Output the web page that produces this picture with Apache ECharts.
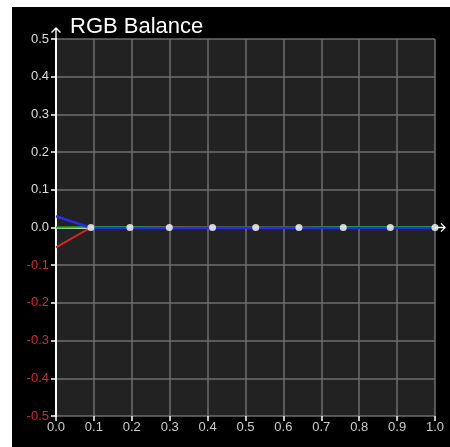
<!DOCTYPE html>
<html>
<head>
<meta charset="utf-8">
<script src="https://cdn.jsdelivr.net/npm/echarts@6/dist/echarts.min.js"></script>
<style>
html, body { margin: 0; padding: 0; background: #fff; }
#chart { position: absolute; left: 12px; top: 7px; width: 438px; height: 440px; }
</style>
</head>
<body>
<div id="chart"></div>
<script>
var xs = [0.0, 0.092, 0.195, 0.299, 0.413, 0.527, 0.641, 0.758, 0.882, 1.0];
var redVals   = [-0.053, 0.0, 0.001, 0.001, 0.0, 0.0, 0.0, 0.0, 0.0, 0.0];
var greenVals = [0.0, 0.001, 0.001, 0.0, 0.0, 0.0, 0.0, 0.001, 0.001, 0.001];
var blueVals  = [0.03, -0.001, -0.001, -0.001, -0.001, -0.001, -0.001, -0.001, -0.001, -0.001];
var dotVals   = [0.0, 0.0, 0.0, 0.0, 0.0, 0.0, 0.0, 0.0, 0.0];

function pairs(ys) {
    return ys.map(function (y, i) { return [xs[i], y]; });
}

var arrow = 'path://M0,5 L5,0 L10,5 L9,6 L5.7,2.7 L5.7,12 L4.3,12 L4.3,2.7 L1,6 Z';
var gridColor = '#6e6e6e';

var chart = echarts.init(document.getElementById('chart'));
var option = {
    backgroundColor: '#000',
    animation: false,
    title: {
        text: 'RGB Balance',
        left: 53,
        top: 4,
        textStyle: { color: '#fff', fontSize: 22, fontWeight: 'normal', fontFamily: 'Liberation Sans' }
    },
    grid: {
        left: 44, right: 15, top: 32, bottom: 31,
        show: true, backgroundColor: '#222', borderWidth: 0
    },
    xAxis: [
        {
            type: 'value', min: 0, max: 1, interval: 0.1, position: 'bottom',
            axisLine: { show: false, onZero: false },
            axisTick: { show: true, length: 5, lineStyle: { color: '#fff', width: 1.5 } },
            axisLabel: {
                margin: 5, color: '#ccc', fontSize: 13, fontFamily: 'Liberation Sans',
                formatter: function (v) { return v.toFixed(1); }
            },
            splitLine: { show: true, lineStyle: { color: gridColor, width: 1.5 } }
        },
        {
            type: 'value', min: 0, max: 1, interval: 0.1,
            axisLine: {
                show: true, onZero: true,
                symbol: ['none', arrow], symbolSize: [10, 11], symbolOffset: [0, 5.5],
                lineStyle: { color: '#fff', width: 1.5 }
            },
            axisTick: { show: false },
            axisLabel: { show: false },
            splitLine: { show: false }
        }
    ],
    yAxis: {
        type: 'value', min: -0.5, max: 0.5, interval: 0.1,
        axisLine: {
            show: true, onZero: false,
            symbol: ['none', arrow], symbolSize: [10, 12], symbolOffset: [0, 6],
            lineStyle: { color: '#fff', width: 2 }
        },
        axisTick: { show: true, length: 5, lineStyle: { color: '#fff', width: 1.5 } },
        axisLabel: {
            margin: 7, fontSize: 13, fontFamily: 'Liberation Sans',
            color: function (v) { return Number(v) < -0.0001 ? '#d42a2a' : '#ddd'; },
            formatter: function (v) { return (Math.abs(v) < 1e-9 ? 0 : v).toFixed(1); }
        },
        splitLine: { show: true, lineStyle: { color: gridColor, width: 1.5 } }
    },
    series: [
        {
            name: 'Red', type: 'line', data: pairs(redVals), showSymbol: false,
            lineStyle: { color: '#e02424', width: 2 }, itemStyle: { color: '#e02424' }
        },
        {
            name: 'Green', type: 'line', data: pairs(greenVals), showSymbol: false,
            lineStyle: { color: '#1fb21f', width: 2 }, itemStyle: { color: '#1fb21f' }
        },
        {
            name: 'Blue', type: 'line', data: pairs(blueVals), showSymbol: false,
            lineStyle: { color: '#2b2bf0', width: 2.5 }, itemStyle: { color: '#2b2bf0' }
        },
        {
            name: 'Points', type: 'scatter', data: dotVals.map(function (y, i) { return [xs[i + 1], y]; }),
            symbolSize: 7, itemStyle: { color: '#fff' }, z: 5
        }
    ]
};
chart.setOption(option);
</script>
</body>
</html>
